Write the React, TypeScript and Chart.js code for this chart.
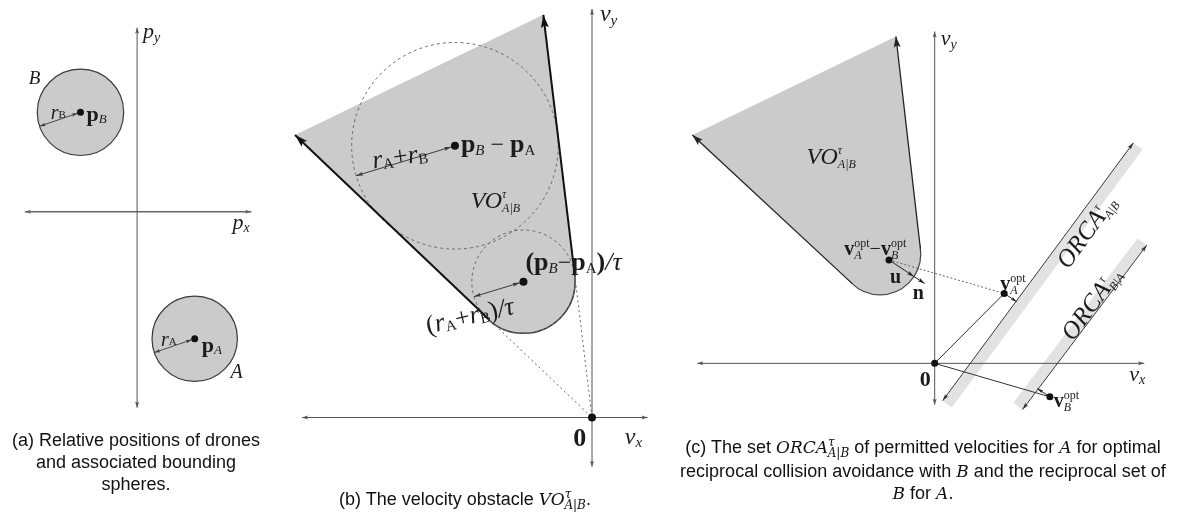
import React, { useEffect, useRef } from "react";
import { Chart, registerables } from "chart.js";

Chart.register(...registerables);

// ---------------- DATA (diagram units) ----------------
// Panel (a): relative positions of the drones
const droneNames = ["A", "B"];
const droneX = [5.8, -5.7];
const droneY = [-12.9, 10.1];
const droneR = [4.3, 4.35];
const droneArrowDeg = [199, 199];
const posAxisX = [-11.3, 11.5];
const posAxisY = [-19.9, 18.7];

// Panel (b): velocity obstacle
const relPos = [-13.8, 27.6]; // p_B - p_A
const sumR = 10.4; // r_A + r_B
const tau = 2;
const voBTipX = [-29.9, -4.9]; // left tip, top tip
const voBTipY = [28.7, 40.9];
const voBTanX = [-10.47, -1.73]; // left tangent, right tangent
const voBTanY = [10.05, 14.42];
const voBArrowDeg = [197, 197]; // big circle, small circle radius arrows
const velAxisBX = [-29.2, 5.6];
const velAxisBY = [-5.0, 41.5];

// Panel (c): ORCA half-planes
const voCTipX = [-24.4, -3.9];
const voCTipY = [23.2, 33.2];
const voCTanX = [-8.3, -1.43];
const voCTanY = [8.1, 11.56];
const voCCenter = [-5.5, 11.1];
const voCR = 4.1;
const vAopt = [7.0, 7.1];
const vBopt = [11.6, -3.4];
const nArrowLen = 1.3;
const orcaABX = [0.8, 20.0];
const orcaABY = [-3.8, 22.4];
const orcaBAX = [8.85, 21.35];
const orcaBAY = [-4.7, 12.0];
const velAxisCX = [-23.9, 21.1];
const velAxisCY = [-4.2, 33.7];

// ---------------- LAYOUT ----------------
const W = 1185;
const H = 517;
const UNIT = 10; // px per diagram unit
const ORIGINS: Record<string, [number, number]> = {
  A: [134, 211],
  B: [592, 420],
  C: [937, 365],
};
const GRAY = "#cbcbcb";
const BAND = "#e2e2e2";
const SERIF = '"Liberation Serif", "Times New Roman", serif';

type Seg = { t: string; f: string; s: number; dy?: number; stack?: boolean };
type Label = { p: string; x: number; y: number; rot?: number; center?: boolean; segs: Seg[] };
const I = (t: string, s: number, dy = 0): Seg => ({ t, f: "italic", s, dy });
const R = (t: string, s: number, dy = 0): Seg => ({ t, f: "normal", s, dy });
const Bd = (t: string, s: number, dy = 0): Seg => ({ t, f: "bold", s, dy });
const St = (g: Seg): Seg => ({ ...g, stack: true });

const LABELS: Label[] = [
  // (a)
  { p: "A", x: 0.6, y: 17.6, segs: [I("p", 22), I("y", 14, -4)] },
  { p: "A", x: 9.6, y: -1.8, segs: [I("p", 22), I("x", 14, -3)] },
  { p: "A", x: -10.9, y: 13.0, segs: [I(droneNames[1], 19)] },
  { p: "A", x: -8.7, y: 9.4, segs: [I("r", 20), R("B", 11, 1)] },
  { p: "A", x: -5.1, y: 9.2, segs: [Bd("p", 22), I("B", 13, -2)] },
  { p: "A", x: 9.4, y: -16.9, segs: [I(droneNames[0], 20)] },
  { p: "A", x: 2.4, y: -13.6, segs: [I("r", 20), R("A", 11, 1)] },
  { p: "A", x: 6.5, y: -14.2, segs: [Bd("p", 22), I("A", 13, -2)] },
  // (b)
  { p: "B", x: 0.8, y: 40.3, segs: [I("v", 24), I("y", 15, -4)] },
  { p: "B", x: 3.3, y: -2.7, segs: [I("v", 24), I("x", 15, -3)] },
  { p: "B", x: -1.9, y: -2.9, segs: [Bd("0", 26)] },
  { p: "B", x: -22.0, y: 25.3, rot: -8, segs: [I("r", 26), R("A", 15, -2), R("+", 26), I("r", 26), R("B", 15, -2)] },
  { p: "B", x: -13.2, y: 27.0, segs: [Bd("p", 26), I("B", 15, -3), R(" − ", 24), Bd("p", 26), R("A", 15, -3)] },
  { p: "B", x: -12.2, y: 21.3, segs: [I("VO", 24), I("τ", 12, 10), St(I("A|B", 12, -4))] },
  {
    p: "B", x: -6.7, y: 15.0,
    segs: [Bd("(", 26), Bd("p", 26), I("B", 15, -3), R("−", 24), Bd("p", 26), R("A", 15, -3), Bd(")", 26), I("/τ", 26)],
  },
  {
    p: "B", x: -16.5, y: 8.5, rot: -13,
    segs: [R("(", 26), I("r", 26), R("A", 15, -2), R("+", 26), I("r", 26), R("B", 15, -2), R(")", 26), I("/τ", 26)],
  },
  // (c)
  { p: "C", x: 0.6, y: 32.3, segs: [I("v", 22), I("y", 14, -4)] },
  { p: "C", x: 19.6, y: -1.8, segs: [I("v", 22), I("x", 14, -3)] },
  { p: "C", x: -1.5, y: -2.3, segs: [Bd("0", 22)] },
  { p: "C", x: -12.9, y: 20.2, segs: [I("VO", 24), I("τ", 12, 10), St(I("A|B", 12, -4))] },
  {
    p: "C", x: -9.1, y: 11.0,
    segs: [Bd("v", 20), R("opt", 12, 8), St(I("A", 12, -4)), R("−", 20), Bd("v", 20), R("opt", 12, 8), St(I("B", 12, -4))],
  },
  { p: "C", x: -4.5, y: 8.2, segs: [Bd("u", 20)] },
  { p: "C", x: -2.2, y: 6.5, segs: [Bd("n", 20)] },
  { p: "C", x: 6.6, y: 7.5, segs: [Bd("v", 20), R("opt", 12, 8), St(I("A", 12, -4))] },
  { p: "C", x: 12.0, y: -4.4, segs: [Bd("v", 20), R("opt", 12, 8), St(I("B", 12, -4))] },
  { p: "C", x: 15.9, y: 12.9, rot: -54, center: true, segs: [I("ORCA", 25), I("τ", 12, 10), St(I("A|B", 12, -4))] },
  { p: "C", x: 16.4, y: 5.6, rot: -54, center: true, segs: [I("ORCA", 25), I("τ", 12, 10), St(I("B|A", 12, -4))] },
];

// ---------------- DATASETS ----------------
type Pt = { x: number; y: number };
const pt = (x: number, y: number): Pt => ({ x, y });

function radiusPx(c: any) {
  const s = c.chart.scales[c.dataset.xAxisID];
  return Math.abs(s.getPixelForValue(c.dataset.radiusUnits) - s.getPixelForValue(0));
}

function buildDatasets() {
  const list: any[] = [];
  const base = (p: string) => ({ xAxisID: "x" + p, yAxisID: "y" + p });
  const line = (p: string, pts: Pt[], o: any = {}) =>
    list.push({
      ...base(p), data: pts, showLine: true, pointRadius: 0, tension: 0,
      borderColor: o.color ?? "#3a3a3a", borderWidth: o.width ?? 1, borderDash: o.dash ?? [],
      borderCapStyle: "butt", fill: false,
      heads: o.heads, headL: o.hl ?? 7, headW: o.hw ?? 4, inset: o.inset ?? 0,
    });
  const poly = (p: string, pts: Pt[], color: string) =>
    list.push({
      ...base(p), data: [...pts, pts[0]], showLine: true, pointRadius: 0, tension: 0,
      borderColor: "rgba(0,0,0,0)", borderWidth: 1, fill: "shape", backgroundColor: color,
    });
  const circle = (p: string, c: Pt, r: number, o: any) =>
    list.push({
      ...base(p), data: [c], showLine: false, radiusUnits: r, pointRadius: radiusPx,
      pointBackgroundColor: o.fill ?? "rgba(0,0,0,0)", pointBorderColor: o.stroke ?? "#333",
      pointBorderWidth: o.width ?? 1, pointDash: o.dash,
    });
  const dots = (p: string, pts: Pt[], r: number) =>
    list.push({
      ...base(p), data: pts, showLine: false, pointRadius: r,
      pointBackgroundColor: "#111", pointBorderColor: "#111", pointBorderWidth: 0,
    });

  // ---- (a)
  line("A", [pt(posAxisX[0], 0), pt(posAxisX[1], 0)], { heads: "both", color: "#666", width: 1.5, hl: 6, hw: 4 });
  line("A", [pt(0, posAxisY[0]), pt(0, posAxisY[1])], { heads: "both", color: "#555", hl: 6, hw: 4 });
  droneX.forEach((x, i) => {
    const y = droneY[i];
    const r = droneR[i];
    circle("A", pt(x, y), r, { fill: GRAY, stroke: "#3a3a3a", width: 1.2 });
    const a = (droneArrowDeg[i] * Math.PI) / 180;
    line("A", [pt(x + r * Math.cos(a), y + r * Math.sin(a)), pt(x, y)], { heads: "both", hl: 6, hw: 3.5, width: 0.9, inset: 3 });
  });
  dots("A", droneX.map((x, i) => pt(x, droneY[i])), 3.5);

  // ---- (b)
  const smallC = pt(relPos[0] / tau, relPos[1] / tau);
  const smallR = sumR / tau;
  const bigC = pt(relPos[0], relPos[1]);
  const tipL = pt(voBTipX[0], voBTipY[0]);
  const tipT = pt(voBTipX[1], voBTipY[1]);
  const tanL = pt(voBTanX[0], voBTanY[0]);
  const tanR = pt(voBTanX[1], voBTanY[1]);
  circle("B", smallC, smallR, { fill: GRAY, stroke: "#333", width: 1.5 });
  poly("B", [tipL, tipT, tanR, tanL], GRAY);
  circle("B", bigC, sumR, { stroke: "#6a6a6a", width: 1, dash: [3, 3] });
  circle("B", smallC, smallR, { stroke: "#6a6a6a", width: 1, dash: [3, 3] });
  line("B", [tanL, pt(0, 0)], { dash: [2, 3], color: "#666" });
  line("B", [tanR, pt(0, 0)], { dash: [2, 3], color: "#666" });
  line("B", [pt(velAxisBX[0], 0), pt(velAxisBX[1], 0)], { heads: "both", color: "#555", hl: 6, hw: 4 });
  line("B", [pt(0, velAxisBY[0]), pt(0, velAxisBY[1])], { heads: "both", color: "#555", hl: 6, hw: 4 });
  line("B", [tanL, tipL], { heads: "end", color: "#111", width: 2, hl: 13, hw: 8 });
  line("B", [tanR, tipT], { heads: "end", color: "#111", width: 2, hl: 13, hw: 8 });
  [[bigC, sumR], [smallC, smallR]].forEach(([c, r]: any, i) => {
    const a = (voBArrowDeg[i] * Math.PI) / 180;
    line("B", [pt(c.x + r * Math.cos(a), c.y + r * Math.sin(a)), c], { heads: "both", hl: 7, hw: 4, inset: 4 });
  });
  dots("B", [bigC, smallC, pt(0, 0)], 4);

  // ---- (c)
  const offsetLine = (xs: number[], ys: number[], side: number, px: number) => {
    const dx = xs[1] - xs[0];
    const dy = ys[1] - ys[0];
    const len = Math.hypot(dx, dy);
    const nx = (side * dy) / len;
    const ny = (-side * dx) / len;
    const o = px / UNIT;
    return [pt(xs[0] + nx * o, ys[0] + ny * o), pt(xs[1] + nx * o, ys[1] + ny * o)];
  };
  line("C", offsetLine(orcaABX, orcaABY, 1, 6), { color: BAND, width: 11 });
  line("C", offsetLine(orcaBAX, orcaBAY, -1, 6), { color: BAND, width: 11 });
  const cC = pt(voCCenter[0], voCCenter[1]);
  circle("C", cC, voCR, { fill: GRAY, stroke: "#444", width: 1.2 });
  const cTipL = pt(voCTipX[0], voCTipY[0]);
  const cTipT = pt(voCTipX[1], voCTipY[1]);
  const cTanL = pt(voCTanX[0], voCTanY[0]);
  const cTanR = pt(voCTanX[1], voCTanY[1]);
  poly("C", [cTipL, cTipT, cTanR, cTanL], GRAY);
  line("C", [pt(velAxisCX[0], 0), pt(velAxisCX[1], 0)], { heads: "both", color: "#555", hl: 6, hw: 4 });
  line("C", [pt(0, velAxisCY[0]), pt(0, velAxisCY[1])], { heads: "both", color: "#555", hl: 6, hw: 4 });
  line("C", [pt(orcaABX[0], orcaABY[0]), pt(orcaABX[1], orcaABY[1])], { heads: "both", color: "#333", hl: 7, hw: 4 });
  line("C", [pt(orcaBAX[0], orcaBAY[0]), pt(orcaBAX[1], orcaBAY[1])], { heads: "both", color: "#333", hl: 7, hw: 4 });
  line("C", [cTanL, cTipL], { heads: "end", color: "#222", width: 1.3, hl: 11, hw: 7 });
  line("C", [cTanR, cTipT], { heads: "end", color: "#222", width: 1.3, hl: 11, hw: 7 });
  const A = pt(vAopt[0], vAopt[1]);
  const B = pt(vBopt[0], vBopt[1]);
  const rel = pt(A.x - B.x, A.y - B.y);
  const ex = rel.x - cC.x;
  const ey = rel.y - cC.y;
  const el = Math.hypot(ex, ey);
  const nU = pt(ex / el, ey / el);
  const bnd = pt(cC.x + voCR * nU.x, cC.y + voCR * nU.y);
  const u = pt(bnd.x - rel.x, bnd.y - rel.y);
  line("C", [pt(0, 0), A], { color: "#333" });
  line("C", [pt(0, 0), B], { color: "#333" });
  line("C", [rel, A], { dash: [2, 2], color: "#666" });
  line("C", [rel, bnd], { heads: "end", color: "#222", hl: 7, hw: 4 });
  line("C", [bnd, pt(bnd.x + nArrowLen * nU.x, bnd.y + nArrowLen * nU.y)], { heads: "end", color: "#222", hl: 7, hw: 4 });
  line("C", [A, pt(A.x + u.x / 2, A.y + u.y / 2)], { heads: "end", color: "#222", hl: 6, hw: 3.5 });
  line("C", [B, pt(B.x - u.x / 2, B.y - u.y / 2)], { heads: "end", color: "#222", hl: 6, hw: 3.5 });
  dots("C", [pt(0, 0), A, B, rel], 3.5);

  // earlier entries lie underneath later ones
  const n = list.length;
  list.forEach((d, i) => (d.order = n - i));
  return list;
}

function buildScales() {
  const scales: any = {
    x: { type: "linear", display: false },
    y: { type: "linear", display: false },
  };
  Object.keys(ORIGINS).forEach((p) => {
    const [ox, oy] = ORIGINS[p];
    scales["x" + p] = { type: "linear", axis: "x", position: "bottom", display: false, min: -ox / UNIT, max: (W - ox) / UNIT };
    scales["y" + p] = { type: "linear", axis: "y", position: "left", display: false, min: -(H - oy) / UNIT, max: oy / UNIT };
  });
  return scales;
}

// ---------------- PLUGINS ----------------
const arrowPlugin = {
  id: "arrowHeads",
  beforeDatasetDraw(chart: any, args: any) {
    const d = chart.data.datasets[args.index];
    if (d.pointDash) chart.ctx.setLineDash(d.pointDash);
  },
  afterDatasetDraw(chart: any, args: any) {
    const ctx = chart.ctx;
    ctx.setLineDash([]);
    const d = chart.data.datasets[args.index];
    if (!d.heads) return;
    const pts = args.meta.data;
    const nPts = pts.length;
    const head = (tip: any, from: any, inset: number) => {
      const ang = Math.atan2(tip.y - from.y, tip.x - from.x);
      ctx.save();
      ctx.translate(tip.x - inset * Math.cos(ang), tip.y - inset * Math.sin(ang));
      ctx.rotate(ang);
      ctx.beginPath();
      ctx.moveTo(0, 0);
      ctx.lineTo(-d.headL, d.headW / 2);
      ctx.lineTo(-d.headL * 0.8, 0);
      ctx.lineTo(-d.headL, -d.headW / 2);
      ctx.closePath();
      ctx.fillStyle = d.borderColor;
      ctx.fill();
      ctx.restore();
    };
    if (d.heads === "end" || d.heads === "both") head(pts[nPts - 1], pts[nPts - 2], d.inset || 0);
    if (d.heads === "start" || d.heads === "both") head(pts[0], pts[1], 0);
  },
};

const labelPlugin = {
  id: "mathLabels",
  afterDatasetsDraw(chart: any) {
    const ctx = chart.ctx;
    for (const L of LABELS) {
      const px = chart.scales["x" + L.p].getPixelForValue(L.x);
      const py = chart.scales["y" + L.p].getPixelForValue(L.y);
      ctx.save();
      ctx.translate(px, py);
      if (L.rot) ctx.rotate((L.rot * Math.PI) / 180);
      ctx.fillStyle = "#1b1b1b";
      ctx.textBaseline = "alphabetic";
      ctx.textAlign = "left";
      const layout: { s: Seg; x: number }[] = [];
      let x = 0;
      let ls = 0;
      let lw = 0;
      for (const s of L.segs) {
        ctx.font = `${s.f} ${s.s}px ${SERIF}`;
        const w = ctx.measureText(s.t).width;
        if (s.stack) {
          layout.push({ s, x: ls });
          x = ls + Math.max(lw, w);
        } else {
          layout.push({ s, x });
          ls = x;
          lw = w;
          x += w;
        }
      }
      const off = L.center ? -x / 2 : 0;
      for (const it of layout) {
        ctx.font = `${it.s.f} ${it.s.s}px ${SERIF}`;
        ctx.fillText(it.s.t, it.x + off, -(it.s.dy || 0));
      }
      ctx.restore();
    }
  },
};

// ---------------- CAPTIONS ----------------
const capStyle: React.CSSProperties = {
  position: "absolute",
  fontFamily: '"Liberation Sans", Arial, sans-serif',
  fontSize: 18,
  lineHeight: "22px",
  color: "#111",
  textAlign: "center",
  whiteSpace: "nowrap",
};
const mathStyle: React.CSSProperties = { fontFamily: '"DejaVu Serif", serif', fontStyle: "italic", fontSize: 17 };

function Scripts({ sup, sub }: { sup: string; sub: string }) {
  return (
    <>
      <span style={{ ...mathStyle, fontSize: 12, position: "relative", top: -7 }}>{sup}</span>
      <span style={{ ...mathStyle, fontSize: 12, position: "relative", top: 4, marginLeft: -7 }}>{sub}</span>
    </>
  );
}
const Mi = ({ t }: { t: string }) => <span style={mathStyle}>{t}</span>;

export default function App() {
  const ref = useRef<HTMLCanvasElement>(null);
  useEffect(() => {
    const chart = new Chart(ref.current as HTMLCanvasElement, {
      type: "scatter",
      data: { datasets: buildDatasets() },
      options: {
        animation: false,
        responsive: false,
        maintainAspectRatio: false,
        events: [],
        layout: { padding: 0 },
        plugins: { legend: { display: false }, tooltip: { enabled: false }, title: { display: false } },
        scales: buildScales(),
      } as any,
      plugins: [arrowPlugin, labelPlugin],
    });
    return () => chart.destroy();
  }, []);

  return (
    <div style={{ position: "absolute", left: 0, top: 0, width: W, height: H, background: "#fff", overflow: "hidden" }}>
      <canvas ref={ref} width={W} height={H} style={{ position: "absolute", left: 0, top: 0 }} />
      <div style={{ ...capStyle, left: 0, width: 272, top: 429 }}>
        (a) Relative positions of drones
        <br />
        and associated bounding
        <br />
        spheres.
      </div>
      <div style={{ ...capStyle, left: 265, width: 400, top: 488 }}>
        (b) The velocity obstacle <Mi t="VO" />
        <Scripts sup="τ" sub="A|B" />.
      </div>
      <div style={{ ...capStyle, left: 663, width: 520, top: 436 }}>
        (c) The set <Mi t="ORCA" />
        <Scripts sup="τ" sub="A|B" /> of permitted velocities for <Mi t="A" /> for optimal
        <br />
        reciprocal collision avoidance with <Mi t="B" /> and the reciprocal set of
        <br />
        <Mi t="B" /> for <Mi t="A" />.
      </div>
    </div>
  );
}
